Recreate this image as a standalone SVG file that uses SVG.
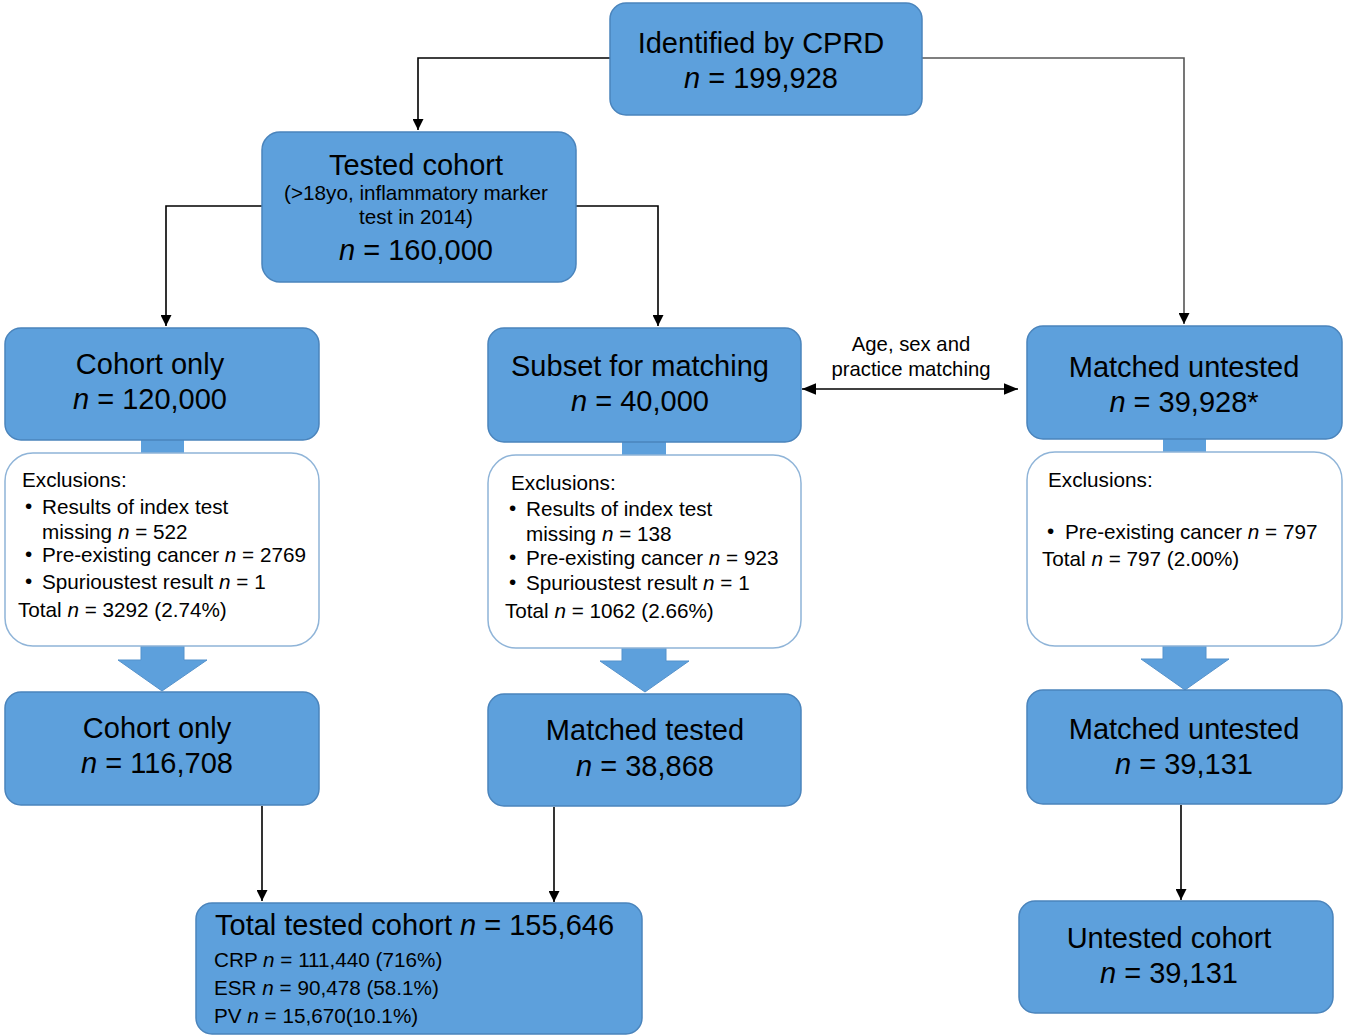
<svg xmlns="http://www.w3.org/2000/svg" width="1350" height="1036" viewBox="0 0 1350 1036">
<defs>
<style>
.box{fill:#5DA0DC;stroke:#4A84BC;stroke-width:1.5}
.exc{fill:#ffffff;stroke:#8FB4D8;stroke-width:1.5}
.blk{fill:#5DA0DC;stroke:none}
.arr{fill:#5DA0DC;stroke:#5592CC;stroke-width:1}
.t{font-family:"Liberation Sans",Arial,sans-serif;fill:#000}
.big{font-size:29px}
.sm{font-size:20.7px}
.mid{text-anchor:middle}
.i{font-style:italic}
.ln{fill:none;stroke:#000;stroke-width:1.6}
.ln2{fill:none;stroke:#555;stroke-width:1.6}
</style>
<marker id="ah" viewBox="0 0 10 10" refX="10" refY="5" markerWidth="11" markerHeight="11" markerUnits="userSpaceOnUse" orient="auto-start-reverse">
<path d="M0,0 L10,5 L0,10 z" fill="#000"/>
</marker>
<marker id="ah2" viewBox="0 0 12 10" refX="12" refY="5" markerWidth="14" markerHeight="12" markerUnits="userSpaceOnUse" orient="auto-start-reverse">
<path d="M0,0 L12,5 L0,10 z" fill="#000"/>
</marker>
</defs>

<g id="connectors">
<polyline class="ln" points="610,58 418,58 418,130" marker-end="url(#ah)"/>
<polyline class="ln2" points="922,58 1184,58 1184,324" marker-end="url(#ah)"/>
<polyline class="ln" points="262,206 166,206 166,326" marker-end="url(#ah)"/>
<polyline class="ln" points="576,206 658,206 658,326" marker-end="url(#ah)"/>
<line class="ln" x1="802" y1="389" x2="1018" y2="389" marker-start="url(#ah2)" marker-end="url(#ah2)"/>
<line class="ln" x1="262" y1="806" x2="262" y2="901" marker-end="url(#ah)"/>
<line class="ln" x1="554" y1="807" x2="554" y2="902" marker-end="url(#ah)"/>
<line class="ln" x1="1181" y1="805" x2="1181" y2="900" marker-end="url(#ah)"/>
<rect class="blk" x="141" y="438" width="43" height="17"/>
<rect class="blk" x="622" y="440" width="44" height="17"/>
<rect class="blk" x="1163" y="437" width="43" height="17"/>
<polygon class="arr" points="141,646 184,646 184,660 207,660 162,691 118,660 141,660"/>
<polygon class="arr" points="622,648 666,648 666,661 689,661 645,692 600,661 622,661"/>
<polygon class="arr" points="1163,646 1206,646 1206,659 1229,659 1185,690 1141,659 1163,659"/>
</g>

<g id="identified">
<rect class="box" x="610" y="3" width="312" height="112" rx="16"/>
<text class="t big mid" x="761" y="53">Identified by CPRD</text>
<text class="t big mid" x="761" y="88"><tspan class="i">n</tspan> = 199,928</text>
</g>

<g id="tested-cohort">
<rect class="box" x="262" y="132" width="314" height="150" rx="18"/>
<text class="t big mid" x="416" y="175">Tested cohort</text>
<text class="t sm mid" x="416" y="200">(&gt;18yo, inflammatory marker</text>
<text class="t sm mid" x="416" y="224">test in 2014)</text>
<text class="t big mid" x="416" y="260"><tspan class="i">n</tspan> = 160,000</text>
</g>

<g id="cohort-only">
<rect class="box" x="5" y="328" width="314" height="112" rx="16"/>
<text class="t big mid" x="150" y="374">Cohort only</text>
<text class="t big mid" x="150" y="409"><tspan class="i">n</tspan> = 120,000</text>
</g>

<g id="subset-matching">
<rect class="box" x="488" y="328" width="313" height="114" rx="16"/>
<text class="t big mid" x="640" y="376">Subset for matching</text>
<text class="t big mid" x="640" y="411"><tspan class="i">n</tspan> = 40,000</text>
</g>

<g id="matching-label">
<text class="t mid" style="font-size:20.3px" x="911" y="351">Age, sex and</text>
<text class="t mid" style="font-size:20.3px" x="911" y="376">practice matching</text>
</g>

<g id="matched-untested">
<rect class="box" x="1027" y="326" width="315" height="113" rx="16"/>
<text class="t big mid" x="1184" y="377">Matched untested</text>
<text class="t big mid" x="1184" y="412"><tspan class="i">n</tspan> = 39,928*</text>
</g>

<g id="exclusions-left">
<rect class="exc" x="5" y="453" width="314" height="193" rx="28"/>
<text class="t sm" x="22" y="487">Exclusions:</text>
<text class="t sm" x="25" y="513">•</text>
<text class="t sm" x="42" y="514">Results of index test</text>
<text class="t sm" x="42" y="539">missing <tspan class="i">n</tspan> = 522</text>
<text class="t sm" x="25" y="561">•</text>
<text class="t sm" x="42" y="562">Pre-existing cancer <tspan class="i">n</tspan> = 2769</text>
<text class="t sm" x="25" y="588">•</text>
<text class="t sm" x="42" y="589">Spurioustest result <tspan class="i">n</tspan> = 1</text>
<text class="t sm" x="18" y="617">Total <tspan class="i">n</tspan> = 3292 (2.74%)</text>
</g>

<g id="exclusions-mid">
<rect class="exc" x="488" y="455" width="313" height="193" rx="28"/>
<text class="t sm" x="511" y="490">Exclusions:</text>
<text class="t sm" x="509" y="515">•</text>
<text class="t sm" x="526" y="516">Results of index test</text>
<text class="t sm" x="526" y="541">missing <tspan class="i">n</tspan> = 138</text>
<text class="t sm" x="509" y="564">•</text>
<text class="t sm" x="526" y="565">Pre-existing cancer <tspan class="i">n</tspan> = 923</text>
<text class="t sm" x="509" y="589">•</text>
<text class="t sm" x="526" y="590">Spurioustest result <tspan class="i">n</tspan> = 1</text>
<text class="t sm" x="505" y="618">Total <tspan class="i">n</tspan> = 1062 (2.66%)</text>
</g>

<g id="exclusions-right">
<rect class="exc" x="1027" y="452" width="315" height="194" rx="28"/>
<text class="t sm" x="1048" y="487">Exclusions:</text>
<text class="t sm" x="1047" y="538">•</text>
<text class="t sm" x="1065" y="539">Pre-existing cancer <tspan class="i">n</tspan> = 797</text>
<text class="t sm" x="1042" y="566">Total <tspan class="i">n</tspan> = 797 (2.00%)</text>
</g>

<g id="cohort-only-final">
<rect class="box" x="5" y="692" width="314" height="113" rx="16"/>
<text class="t big mid" x="157" y="738">Cohort only</text>
<text class="t big mid" x="157" y="773"><tspan class="i">n</tspan> = 116,708</text>
</g>

<g id="matched-tested">
<rect class="box" x="488" y="694" width="313" height="112" rx="16"/>
<text class="t big mid" x="645" y="740">Matched tested</text>
<text class="t big mid" x="645" y="776"><tspan class="i">n</tspan> = 38,868</text>
</g>

<g id="matched-untested-final">
<rect class="box" x="1027" y="690" width="315" height="114" rx="16"/>
<text class="t big mid" x="1184" y="739">Matched untested</text>
<text class="t big mid" x="1184" y="774"><tspan class="i">n</tspan> = 39,131</text>
</g>

<g id="total-tested">
<rect class="box" x="196" y="903" width="446" height="131" rx="16"/>
<text class="t big" x="215" y="935">Total tested cohort <tspan class="i">n</tspan> = 155,646</text>
<text class="t sm" x="214" y="967">CRP <tspan class="i">n</tspan> = 111,440 (716%)</text>
<text class="t sm" x="214" y="995">ESR <tspan class="i">n</tspan> = 90,478 (58.1%)</text>
<text class="t sm" x="214" y="1023">PV <tspan class="i">n</tspan> = 15,670(10.1%)</text>
</g>

<g id="untested-cohort">
<rect class="box" x="1019" y="901" width="314" height="112" rx="16"/>
<text class="t big mid" x="1169" y="948">Untested cohort</text>
<text class="t big mid" x="1169" y="983"><tspan class="i">n</tspan> = 39,131</text>
</g>
</svg>
